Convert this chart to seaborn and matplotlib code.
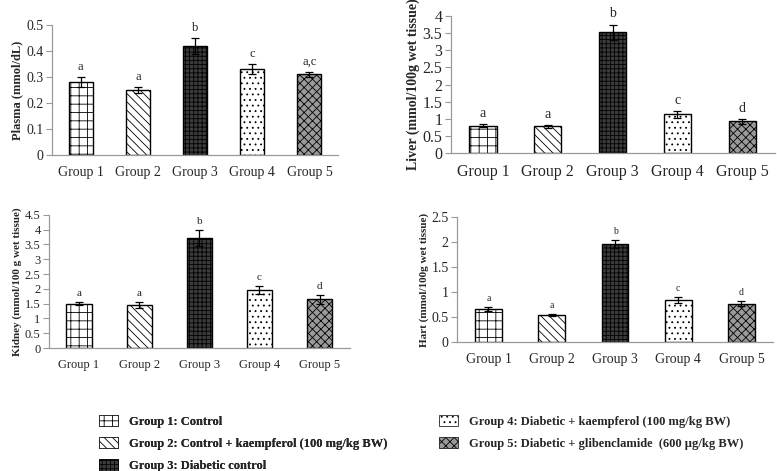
"""
Lipid levels in plasma, liver, kidney and heart across five treatment groups.
"""

import matplotlib
matplotlib.use("Agg")
import matplotlib.pyplot as plt
from matplotlib.patches import Patch
import pandas as pd
import seaborn as sns

groups = ["Group 1", "Group 2", "Group 3", "Group 4", "Group 5"]

plasma = [0.28, 0.25, 0.42, 0.33, 0.31]
plasma_err = [0.02, 0.01, 0.03, 0.02, 0.01]
plasma_sig = ["a", "a", "b", "c", "a,c"]

liver = [0.80, 0.78, 3.53, 1.13, 0.93]
liver_err = [0.05, 0.04, 0.22, 0.10, 0.07]
liver_sig = ["a", "a", "b", "c", "d"]

kidney = [1.50, 1.45, 3.72, 1.96, 1.65]
kidney_err = [0.05, 0.10, 0.27, 0.12, 0.15]
kidney_sig = ["a", "a", "b", "c", "d"]

heart = [0.66, 0.54, 1.96, 0.85, 0.77]
heart_err = [0.04, 0.02, 0.08, 0.06, 0.06]
heart_sig = ["a", "a", "b", "c", "d"]

legend_labels = [
    "Group 1: Control",
    "Group 2: Control + kaempferol (100 mg/kg BW)",
    "Group 3: Diabetic control",
    "Group 4: Diabetic + kaempferol (100 mg/kg BW)",
    "Group 5: Diabetic + glibenclamide  (600 \u00b5g/kg BW)",
]

# facecolor, hatch per group
styles = [
    ("white", "++"),
    ("white", "\\\\\\\\"),
    ("#3c3c3c", "++++"),
    ("white", "..."),
    ("#9a9a9a", "xxxx"),
]

sns.set_style("white")
plt.rcParams["font.family"] = ["Liberation Serif", "DejaVu Serif"]
plt.rcParams["hatch.linewidth"] = 0.6


def draw_panel(ax, values, errs, sig, ylabel, ylim, step, tick_size, label_size, sig_size):
    df = pd.DataFrame({"group": groups, "value": values})
    sns.barplot(data=df, x="group", y="value", ax=ax, width=0.42, color="white",
                edgecolor="black", linewidth=1.0, errorbar=None)
    for patch, (fc, hatch) in zip(ax.patches, styles):
        patch.set_facecolor(fc)
        patch.set_hatch(hatch)
        patch.set_edgecolor("black")
    ax.errorbar(range(len(groups)), values, yerr=errs, fmt="none", ecolor="black",
                elinewidth=0.9, capsize=3, capthick=0.9)
    pad = ylim * 0.03
    for i, (v, e, s) in enumerate(zip(values, errs, sig)):
        ax.text(i, v + e + pad, s, ha="center", va="bottom", fontsize=sig_size)
    n = int(round(ylim / step))
    ax.set_ylim(0, ylim)
    ax.set_xlim(-0.5, len(groups) - 0.5)
    ax.set_yticks([step * k for k in range(n + 1)])
    ax.set_yticklabels([f"{step * k:g}" for k in range(n + 1)])
    ax.set_xlabel("")
    ax.set_ylabel(ylabel, fontweight="bold", fontsize=label_size, labelpad=2)
    ax.set_xticks([i + 0.5 for i in range(-1, len(groups))], minor=True)
    ax.tick_params(axis="x", which="major", length=0, labelsize=tick_size, pad=8)
    ax.tick_params(axis="x", which="minor", length=4, color="#999999", direction="out")
    ax.tick_params(axis="y", length=4, color="#999999", labelsize=tick_size, pad=2, left=True)
    for side in ["top", "right"]:
        ax.spines[side].set_visible(False)
    for side in ["left", "bottom"]:
        ax.spines[side].set_color("#999999")
        ax.spines[side].set_linewidth(0.9)


fig = plt.figure(figsize=(7.77, 4.71), dpi=100)
ax1 = fig.add_axes([0.067, 0.671, 0.368, 0.276])
ax2 = fig.add_axes([0.580, 0.675, 0.417, 0.291])
ax3 = fig.add_axes([0.063, 0.261, 0.387, 0.283])
ax4 = fig.add_axes([0.588, 0.274, 0.407, 0.265])

draw_panel(ax1, plasma, plasma_err, plasma_sig, "Plasma (mmol/dL)", 0.5, 0.1, 10, 9, 9)
draw_panel(ax2, liver, liver_err, liver_sig, "Liver (mmol/100g wet tissue)", 4, 0.5, 11.5, 10, 10)
draw_panel(ax3, kidney, kidney_err, kidney_sig, "Kidney (mmol/100 g wet tissue)", 4.5, 0.5, 9, 8, 8)
draw_panel(ax4, heart, heart_err, heart_sig, "Hart (mmol/100g wet tissue)", 2.5, 0.5, 10, 8, 7)

handles = [Patch(facecolor=fc, hatch=h, edgecolor="black", linewidth=0.5) for fc, h in styles]
legend_kw = dict(loc="upper left", frameon=False, borderpad=0, borderaxespad=0,
                 prop={"weight": "bold", "size": 9}, handlelength=1.5, handleheight=1.0,
                 labelspacing=0.75, handletextpad=0.9)
leg_left = fig.legend(handles[:3], legend_labels[:3], bbox_to_anchor=(0.128, 0.119), **legend_kw)
fig.add_artist(leg_left)
fig.legend(handles[3:], legend_labels[3:], bbox_to_anchor=(0.565, 0.119), **legend_kw)

fig.savefig("out.png", dpi=100)
plt.close(fig)
